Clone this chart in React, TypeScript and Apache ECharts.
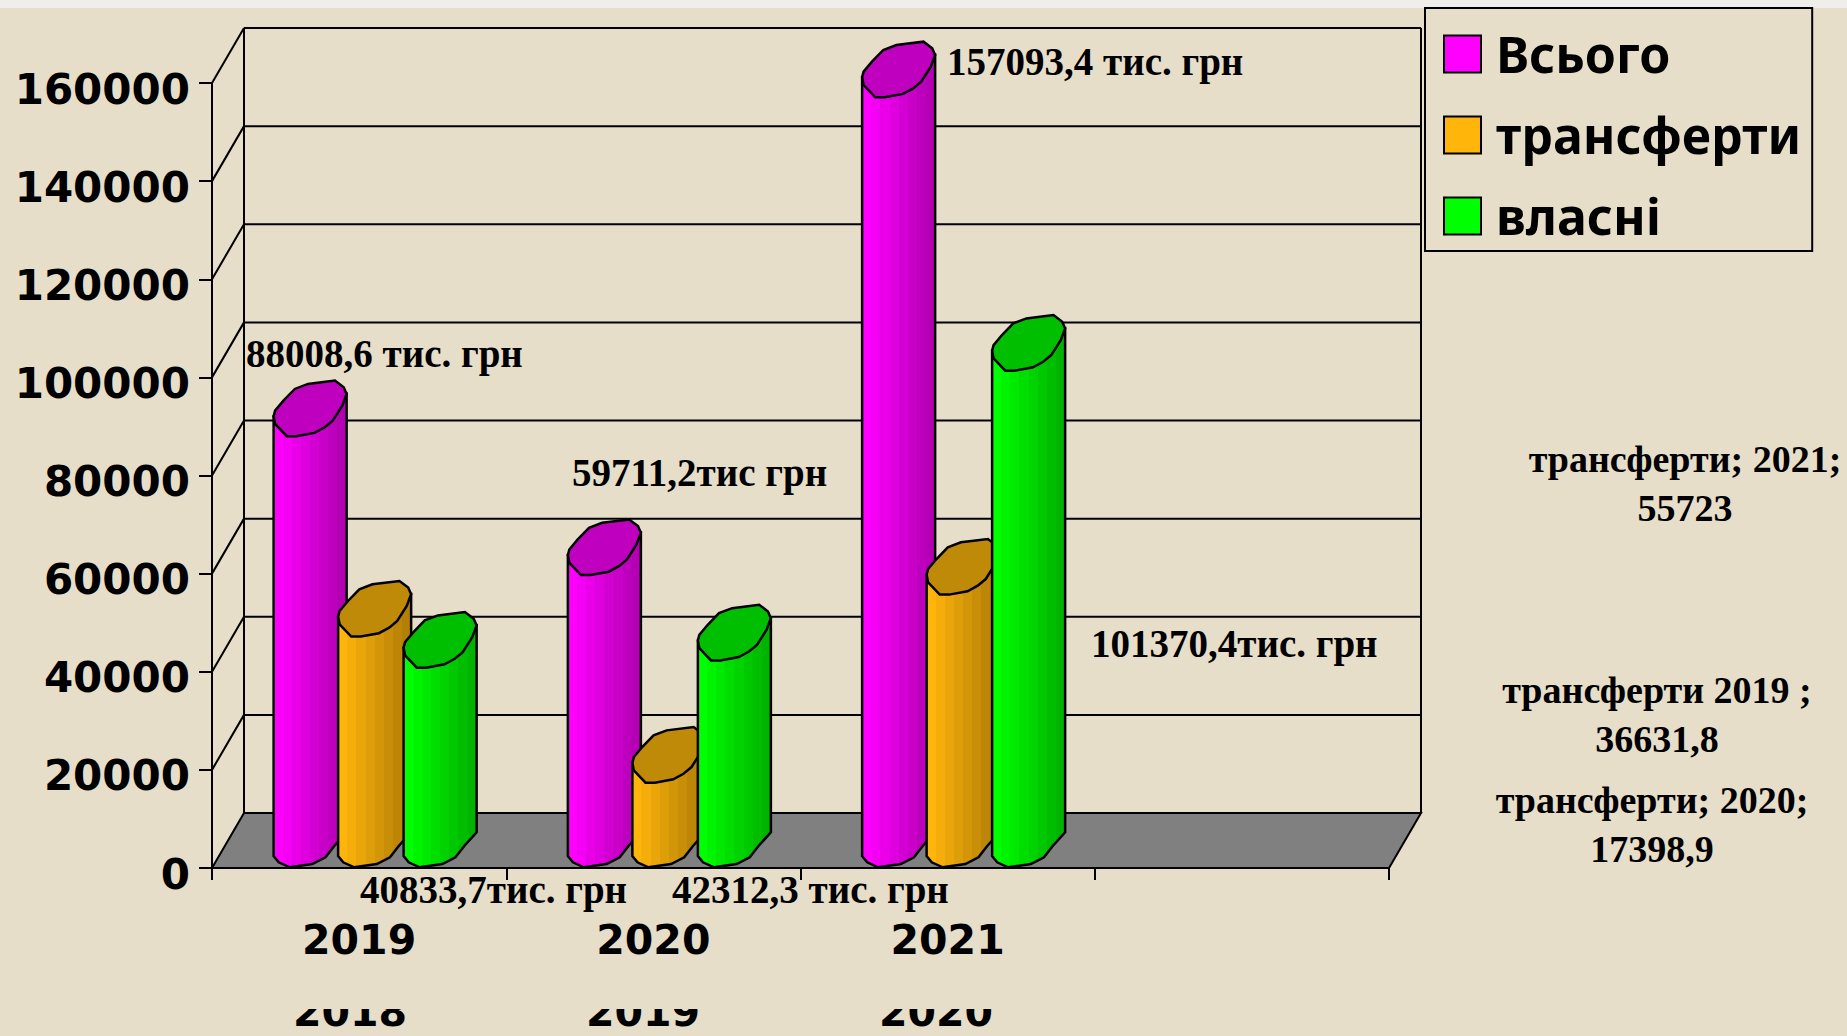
import React, { useEffect, useRef } from "react";
import * as echarts from "echarts";

const categories = ["2019", "2020", "2021", ""];
const hiddenRow = ["2018", "2019", "2020"];
const vsogo = [88008.6, 59711.2, 157093.4];
const transferty = [47174.9, 17398.9, 55723];
const vlasni = [40833.7, 42312.3, 101370.4];
const yTicks = [0, 20000, 40000, 60000, 80000, 100000, 120000, 140000, 160000];
const seriesNames = ["Всього", "трансферти", "власні"];
const notes = [
  { text: "157093,4 тис. грн", x: 947, y: 61, align: "left", size: 39 },
  { text: "88008,6 тис. грн", x: 246, y: 353, align: "left", size: 39 },
  { text: "59711,2тис грн", x: 572, y: 472, align: "left", size: 39 },
  { text: "101370,4тис. грн", x: 1091, y: 643, align: "left", size: 39 },
  { text: "40833,7тис. грн", x: 360, y: 889, align: "left", size: 39 },
  { text: "42312,3 тис. грн", x: 672, y: 889, align: "left", size: 39 },
  { text: "трансферти; 2021;\n55723", x: 1685, y: 483, align: "center", size: 38 },
  { text: "трансферти 2019 ;\n36631,8", x: 1657, y: 714, align: "center", size: 38 },
  { text: "трансферти; 2020;\n17398,9", x: 1652, y: 824, align: "center", size: 38 },
];

const BG = "#E6DEC9";
const BAR_W = 73;
const DX = 32;
const DY = 55;
const SLOT_OFFSET = [-85.5, -21, 44.5];
const FACE = ["#FF00FF", "#FFB50A", "#00FF00"];
const TOP = ["#BF00BF", "#BF8A08", "#00BF00"];
// top cap outline: fraction of bar width, fraction of cap height (0 = highest)
const CAP: number[][] = [
  [0, 0.64], [0.02, 0.78], [0.18, 1], [0.31, 1], [0.56, 0.94], [0.7, 0.84], [0.81, 0.72],
  [0.94, 0.45], [1, 0.24], [0.96, 0.12], [0.84, 0], [0.47, 0.06], [0.29, 0.15],
  [0.135, 0.36], [0.02, 0.54],
];
const CAP_RIGHT = 8;
// foot outline: fraction of width, rise above the ground line in px
const FOOT: number[][] = [
  [0, 12], [0.07, 5.7], [0.22, 0.7], [0.53, 4], [0.71, 10.7], [0.83, 22], [1, 35.7],
];
const CAP_H = 55.6;

function bands(hex: string) {
  const n = 8;
  const r = parseInt(hex.slice(1, 3), 16);
  const g = parseInt(hex.slice(3, 5), 16);
  const b = parseInt(hex.slice(5, 7), 16);
  const stops: any[] = [];
  for (let i = 0; i < n; i++) {
    const k = 1 - 0.3 * (i / (n - 1));
    const c = `rgb(${Math.round(r * k)},${Math.round(g * k)},${Math.round(b * k)})`;
    stops.push({ offset: i / n, color: c }, { offset: (i + 1) / n, color: c });
  }
  return new echarts.graphic.LinearGradient(0, 0, 1, 0, stops);
}

const cylinder = (slot: number) => (params: any, api: any) => {
  const cat = api.value(0);
  const ground = api.coord([cat, 0]);
  const top = api.coord([cat, api.value(1)]);
  const left = ground[0] + SLOT_OFFSET[slot];
  const capTop = top[1] - CAP_H;
  const capPts = CAP.map((p) => [left + p[0] * BAR_W, capTop + p[1] * CAP_H]);
  const body = [
    [left, capTop + CAP[0][1] * CAP_H],
    ...FOOT.map((p) => [left + p[0] * BAR_W, ground[1] - p[1]]),
    [left + BAR_W, capTop + CAP[CAP_RIGHT][1] * CAP_H],
  ];
  return {
    type: "group",
    children: [
      {
        type: "polygon",
        shape: { points: body },
        style: { fill: bands(FACE[slot]), stroke: "#000", lineWidth: 2.5 },
      },
      {
        type: "polygon",
        shape: { points: capPts },
        style: { fill: TOP[slot], stroke: "#000", lineWidth: 2.5 },
      },
    ],
  };
};

const walls = (params: any, api: any) => {
  const t = api.value(1);
  const [x0, y] = api.coord([0, t]);
  const grid = params.coordSys;
  const line = (x1: number, y1: number, x2: number, y2: number) => ({
    type: "line",
    shape: { x1, y1, x2, y2 },
    style: { stroke: "#000", lineWidth: 2 },
  });
  const left = grid.x;
  const right = grid.x + grid.width;
  const children: any[] = [];
  if (t === 0) {
    children.push({
      type: "polygon",
      shape: { points: [[left, y], [left + DX, y - DY], [right + DX, y - DY], [right, y]] },
      style: { fill: "#808080", stroke: "#000", lineWidth: 2 },
    });
    children.push(line(left + DX, y - DY, left + DX, grid.y - DY));
    children.push(line(right + DX, y - DY, right + DX, grid.y - DY));
  } else {
    children.push(line(left, y, left + DX, y - DY));
    children.push(line(left + DX, y - DY, right + DX, y - DY));
  }
  return { type: "group", children };
};

export default function App() {
  const ref = useRef<HTMLDivElement>(null);
  useEffect(() => {
    document.body.style.margin = "0";
    const chart = echarts.init(ref.current!, null, { renderer: "svg" });
    const valueSets = [vsogo, transferty, vlasni];
    const sansBold = { fontFamily: "DejaVu Sans", fontWeight: "bold" as const, color: "#000" };
    chart.setOption({
      animation: false,
      backgroundColor: BG,
      grid: { left: 212, top: 83, width: 1177, height: 785, containLabel: false },
      xAxis: {
        type: "category",
        data: categories,
        axisLine: { lineStyle: { color: "#000", width: 2 } },
        axisTick: { show: true, length: 12, lineStyle: { color: "#000", width: 2 } },
        axisLabel: { ...sansBold, fontSize: 41, margin: 51, interval: 0 },
      },
      yAxis: {
        type: "value",
        min: 0,
        max: 160000,
        interval: 20000,
        splitLine: { show: false },
        axisLine: { show: true, lineStyle: { color: "#000", width: 2 } },
        axisTick: { show: true, length: 13, lineStyle: { color: "#000", width: 2 } },
        axisLabel: { ...sansBold, fontSize: 42, margin: 22, verticalAlign: "top", lineHeight: 12, formatter: (v: number) => String(v) },
      },
      legend: {
        orient: "vertical",
        left: 1425,
        top: 8,
        data: seriesNames,
        backgroundColor: BG,
        borderColor: "#000",
        borderWidth: 2,
        padding: [21, 11, 10, 18],
        itemWidth: 37,
        itemHeight: 37,
        itemGap: 31,
        icon: "rect",
        itemStyle: { borderColor: "#000", borderWidth: 2 },
        textStyle: { fontFamily: "Noto Sans", fontWeight: "bold", fontSize: 50, color: "#000", padding: [2, 0, 0, 10] },
      },
      series: [
        {
          type: "custom",
          renderItem: walls,
          clip: false,
          silent: true,
          encode: { x: 0, y: 1 },
          data: yTicks.map((t) => [0, t]),
          z: 1,
        },
        ...seriesNames.map((name, s) => ({
          type: "custom",
          name,
          renderItem: cylinder(s),
          clip: false,
          encode: { x: 0, y: 1 },
          itemStyle: { color: FACE[s] },
          data: valueSets[s].map((v, i) => [i, v]),
          z: 3 + s,
        })),
      ],
      graphic: [
        { type: "rect", shape: { x: 0, y: 0, width: 1847, height: 8 }, style: { fill: "#EFEEEA" }, z: 1 },
        ...hiddenRow.map((t, i) => ({
          type: "text",
          x: [350, 643, 936][i],
          y: 1012,
          z: 10,
          style: {
            text: t,
            fontFamily: "DejaVu Sans",
            fontWeight: "bold",
            fontSize: 41,
            fill: "#000",
            align: "center",
            verticalAlign: "middle",
          },
        })),
        { type: "rect", shape: { x: 280, y: 975, width: 740, height: 34 }, style: { fill: BG }, z: 11 },
        ...notes.map((n) => ({
          type: "text",
          x: n.x,
          y: n.y,
          z: 12,
          style: {
            text: n.text,
            fontFamily: "Liberation Serif",
            fontWeight: "bold",
            fontSize: n.size,
            lineHeight: 49,
            fill: "#000",
            align: n.align,
            verticalAlign: "middle",
          },
        })),
      ],
    });
    return () => chart.dispose();
  }, []);
  return <div ref={ref} style={{ width: 1847, height: 1036 }} />;
}
